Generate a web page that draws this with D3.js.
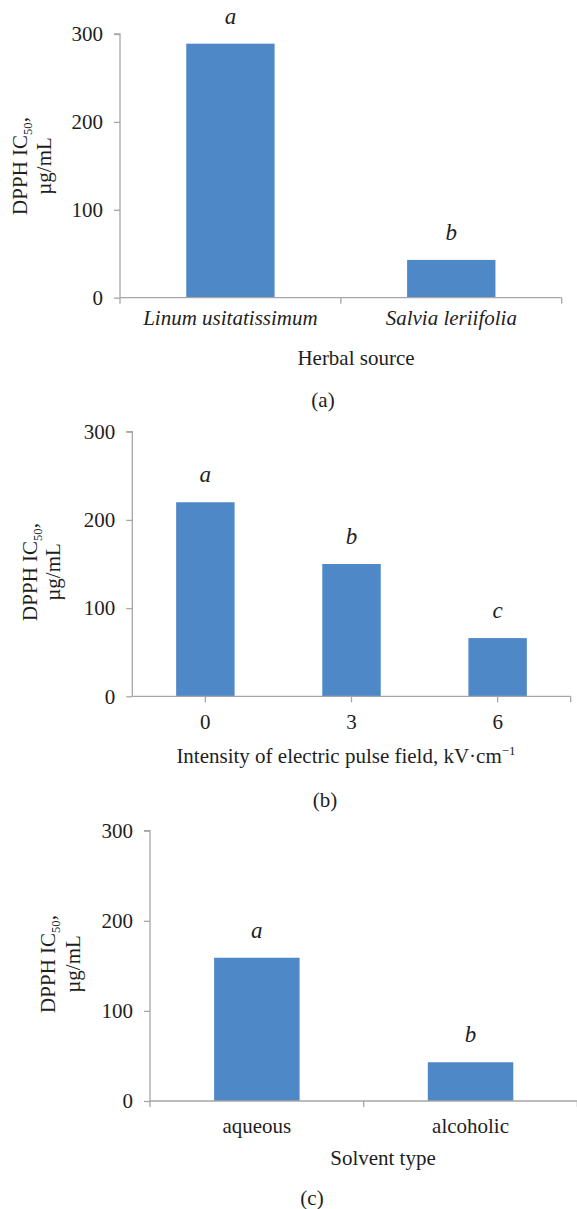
<!DOCTYPE html>
<html>
<head>
<meta charset="utf-8">
<script src="https://cdn.jsdelivr.net/npm/d3@7"></script>
<style>
  html, body { margin: 0; padding: 0; background: #fff; }
  svg { display: block; }
  text { font-family: "Liberation Serif", "Times New Roman", serif; fill: #1e1e1e; }
</style>
</head>
<body>
<svg id="chart" width="577" height="1209"></svg>
<script>
// DPPH IC50 values (µg/mL) for the three experiments
const herbalSources = ["Linum usitatissimum", "Salvia leriifolia"];
const herbalIC50 = [289, 43];
const herbalLetters = ["a", "b"];

const fieldIntensities = ["0", "3", "6"];
const fieldIC50 = [220, 150, 66];
const fieldLetters = ["a", "b", "c"];

const solventTypes = ["aqueous", "alcoholic"];
const solventIC50 = [159, 43];
const solventLetters = ["a", "b"];

const yTicks = [0, 100, 200, 300];
const yMax = 300;

const BAR = "#4f88c7";
const AXIS = "#a6a6a6";
const FS = 21;

const svg = d3.select("#chart");

// Layout of each panel (pixels)
const panels = [
  {
    cats: herbalSources, vals: herbalIC50, letters: herbalLetters, italicCats: true,
    x0: 120, x1: 561.7, yTop: 34, yBot: 297.7,
    tickMode: "boundaries", catLabelDy: 27,
    title: [{t: "Herbal source"}], titleX: 356, titleY: 365,
    caption: "(a)", capX: 323, capY: 407,
    ylab1: 93, ylab2: 69, ylabY: 166
  },
  {
    cats: fieldIntensities, vals: fieldIC50, letters: fieldLetters, italicCats: false,
    x0: 132.3, x1: 570.7, yTop: 431.7, yBot: 696.3,
    tickMode: "centers", catLabelDy: 33,
    title: [{t: "Intensity of electric pulse field, kV·cm"}, {t: "\u22121", sup: true}],
    titleX: 346, titleY: 763.3,
    caption: "(b)", capX: 325, capY: 807,
    ylab1: 95, ylab2: 72, ylabY: 572
  },
  {
    cats: solventTypes, vals: solventIC50, letters: solventLetters, italicCats: false,
    x0: 150, x1: 577.4, yTop: 830.7, yBot: 1101,
    tickMode: "boundaries", catLabelDy: 32,
    title: [{t: "Solvent type"}], titleX: 383, titleY: 1165,
    caption: "(c)", capX: 312, capY: 1205,
    ylab1: 95, ylab2: 70, ylabY: 964
  }
];

panels.forEach(p => {
  const g = svg.append("g");

  const x = d3.scaleBand().domain(p.cats).range([p.x0, p.x1])
    .paddingInner(0.6).paddingOuter(0.3);
  const y = d3.scaleLinear().domain([0, yMax]).range([p.yBot, p.yTop]);

  // y axis
  const yAxis = d3.axisLeft(y).tickValues(yTicks).tickSize(6).tickPadding(11)
    .tickFormat(d3.format("d"));
  const ya = g.append("g").attr("transform", `translate(${p.x0},0)`).call(yAxis);
  ya.select(".domain").attr("stroke", AXIS).attr("stroke-width", 1.3)
    .attr("d", `M-6,${p.yTop}H0V${p.yBot}`);
  ya.selectAll(".tick line").attr("stroke", AXIS).attr("stroke-width", 1.3);
  ya.selectAll(".tick text").attr("font-size", FS).attr("font-family", "Liberation Serif")
    .attr("fill", "#1e1e1e");

  // bars
  g.selectAll("rect.bar").data(p.vals).join("rect")
    .attr("class", "bar")
    .attr("x", (d, i) => x(p.cats[i]))
    .attr("width", x.bandwidth())
    .attr("y", d => y(d))
    .attr("height", d => y(0) - y(d))
    .attr("fill", BAR);

  // significance letters
  g.selectAll("text.sig").data(p.vals).join("text")
    .attr("class", "sig")
    .attr("x", (d, i) => x(p.cats[i]) + x.bandwidth() / 2)
    .attr("y", d => y(d) - 20)
    .attr("text-anchor", "middle")
    .attr("font-size", FS + 2)
    .attr("font-style", "italic")
    .text((d, i) => p.letters[i]);

  // x axis line
  g.append("line")
    .attr("x1", p.x0).attr("x2", p.x1)
    .attr("y1", y(0)).attr("y2", y(0))
    .attr("stroke", AXIS).attr("stroke-width", 1.3);

  // x tick marks
  const step = x.step();
  let tickXs;
  if (p.tickMode === "boundaries") {
    tickXs = d3.range(p.cats.length + 1).map(i => p.x0 + i * (p.x1 - p.x0) / p.cats.length);
  } else {
    tickXs = p.cats.map(c => x(c) + x.bandwidth() / 2).concat([p.x1]);
  }
  g.selectAll("line.xt").data(tickXs).join("line")
    .attr("class", "xt")
    .attr("x1", d => d).attr("x2", d => d)
    .attr("y1", y(0)).attr("y2", y(0) + 6)
    .attr("stroke", AXIS).attr("stroke-width", 1.3);

  // category labels
  g.selectAll("text.cat").data(p.cats).join("text")
    .attr("class", "cat")
    .attr("x", d => x(d) + x.bandwidth() / 2)
    .attr("y", y(0) + p.catLabelDy)
    .attr("text-anchor", "middle")
    .attr("font-size", FS)
    .attr("font-style", p.italicCats ? "italic" : "normal")
    .text(d => d);

  // axis title
  const tt = g.append("text")
    .attr("x", p.titleX).attr("y", p.titleY)
    .attr("text-anchor", "middle")
    .attr("font-size", FS);
  p.title.forEach(part => {
    const s = tt.append("tspan").text(part.t);
    if (part.sup) s.attr("font-size", FS * 0.62).attr("dy", -8);
  });

  // panel caption
  g.append("text")
    .attr("x", p.capX).attr("y", p.capY)
    .attr("text-anchor", "middle")
    .attr("font-size", FS)
    .text(p.caption);

  // y axis title (two lines, rotated)
  const l1 = g.append("text")
    .attr("transform", `translate(${p.x0 - p.ylab1},${p.ylabY}) rotate(-90)`)
    .attr("text-anchor", "middle")
    .attr("font-size", FS);
  l1.append("tspan").text("DPPH IC");
  l1.append("tspan").text("50").attr("font-size", FS * 0.6).attr("dy", 5);
  l1.append("tspan").text(",").attr("dy", -5);

  g.append("text")
    .attr("transform", `translate(${p.x0 - p.ylab2},${p.ylabY}) rotate(-90)`)
    .attr("text-anchor", "middle")
    .attr("font-size", FS)
    .text("µg/mL");
});
</script>
</body>
</html>
